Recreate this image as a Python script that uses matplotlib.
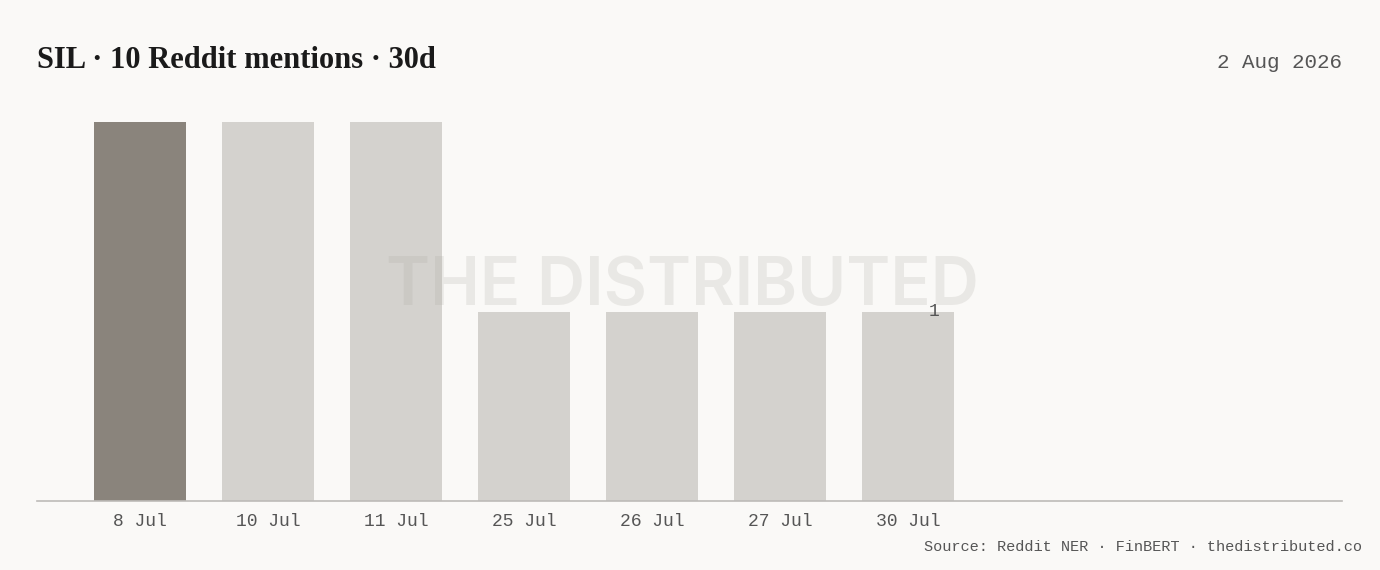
import matplotlib
matplotlib.use("Agg")
import matplotlib.pyplot as plt

# mentions per day
days = ["8 Jul", "10 Jul", "11 Jul", "25 Jul", "26 Jul", "27 Jul", "30 Jul"]
mentions = [2, 2, 2, 1, 1, 1, 1]
highlight = "8 Jul"
title = "SIL · 10 Reddit mentions · 30d"
date_label = "2 Aug 2026"
source = "Source: Reddit NER · FinBERT · thedistributed.co"

bg = "#faf9f7"
dark = "#8a847c"
light = "#d4d2ce"
mono = ["Liberation Mono", "DejaVu Sans Mono"]

W, H = 1380, 570
fig = plt.figure(figsize=(W / 100, H / 100), dpi=100, facecolor=bg)
ax = fig.add_axes([37 / W, (H - 501) / H, (1342 - 37) / W, (501 - 122) / H])
ax.set_facecolor(bg)

xs = list(range(len(days)))
colors = [dark if d == highlight else light for d in days]
ax.bar(xs, mentions, width=0.72, color=colors, zorder=2)

# value label on last bar only
ax.text(xs[-1] + 0.2, mentions[-1], str(mentions[-1]), ha="center", va="center",
        fontsize=13, family=mono, color="#555555", zorder=6)

ax.set_xlim(-0.805, 9.39)
ax.set_ylim(0, 2)
ax.set_xticks(xs)
ax.set_xticklabels(days, family=mono, fontsize=13, color="#555555")
ax.tick_params(axis="x", length=0, pad=9)
ax.set_yticks([])
for s in ["top", "right", "left"]:
    ax.spines[s].set_visible(False)
ax.spines["bottom"].set_color("#bdbbb8")
ax.spines["bottom"].set_linewidth(1.2)

# watermark
fig.text(682 / W, (H - 287) / H, "THE DISTRIBUTED", ha="center", va="center",
         fontsize=48, fontweight="semibold", color="#a9a59f", alpha=0.2, zorder=5,
         family=["Inter", "DejaVu Sans"])

fig.text(37 / W, (H - 60) / H, title, ha="left", va="center", fontsize=22,
         fontweight="bold", family=["Liberation Serif", "DejaVu Serif"], color="#1a1a1a")
fig.text(1342 / W, (H - 63) / H, date_label, ha="right", va="center", fontsize=15,
         family=mono, color="#555555")
fig.text(1362 / W, (H - 547) / H, source, ha="right", va="center", fontsize=11,
         family=mono, color="#555555")

fig.savefig("out.png", dpi=100, facecolor=bg)
